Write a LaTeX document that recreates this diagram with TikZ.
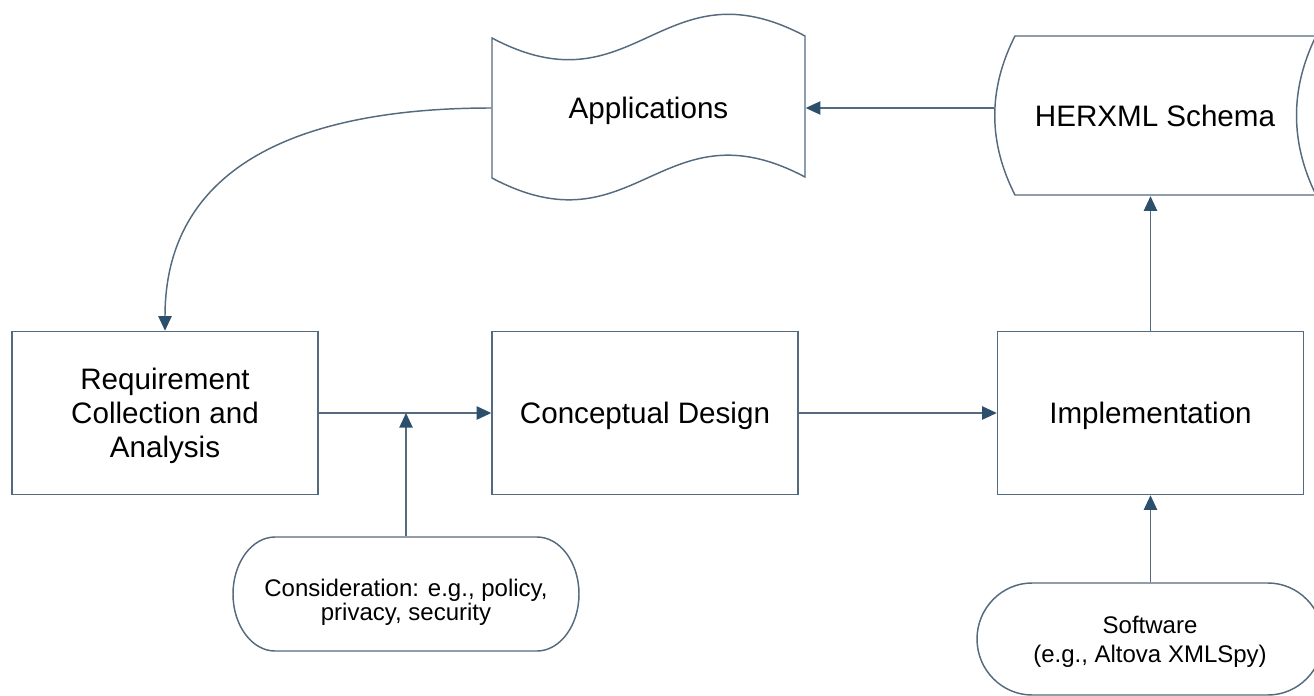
\documentclass[tikz,border=0pt]{standalone}
\usepackage{fontspec}
\setmainfont{Liberation Sans}
\usepackage{tikz}
\usetikzlibrary{arrows.meta,calc}
\definecolor{edgeblue}{RGB}{84,106,126}
\definecolor{tipblue}{RGB}{44,80,108}
\tikzset{every picture/.style={line width=1.1pt}}
\tikzset{
  outline/.style={draw=edgeblue},
  box/.style={outline,minimum width=229.5pt,minimum height=122.25pt,align=center,text depth=0pt,font=\fontsize{22.2}{25.5}\selectfont},
  bigtext/.style={align=center,text depth=0pt,font=\fontsize{22.2}{25.5}\selectfont},
  smalltext/.style={align=center,text depth=0pt,font=\fontsize{18}{18}\selectfont},
  arr/.style={edgeblue,-{Triangle[length=11pt,width=10pt,color=tipblue]}}
}

\begin{document}
\begin{tikzpicture}[x=0.75pt,y=0.75pt,yscale=-1,xscale=1]
		\useasboundingbox (0,0) rectangle (1314,696);
		
		%Shape: Tape [id:apps]
		\draw [outline] (492,38) .. controls (635,114) and (662,-40) .. (805,36) -- (805,177) .. controls (662,101) and (635,254) .. (492,178) -- cycle ;
		% Text Node
		\node (apps) [bigtext,minimum width=234.75pt,minimum height=105pt] at (648.5,108) {Applications};
		
		%Shape: Stored Data [id:schema]
		\draw [outline] (1330,36) -- (1015,36) .. controls (988,89) and (988,142) .. (1015,195) -- (1330,195) ;
		\draw [outline] (1316,36) .. controls (1290,89) and (1290,142) .. (1316,195) ;
		% Text Node
		\node (schema) [bigtext,minimum width=240pt,minimum height=119.25pt] at (1155,116) {HERXML Schema};
		
		%Shape: Rectangle [id:req]
		\node (req) [box] at (165,413) {Requirement\\Collection and\\Analysis};
		%Shape: Rectangle [id:concept]
		\node (concept) [box] at (645,413) {Conceptual Design};
		%Shape: Rectangle [id:impl]
		\node (impl) [box] at (1150.5,413) {Implementation};
		
		%Shape: Terminator [id:consid]
		\draw [outline] (275,537) -- (537,537) .. controls (560,537) and (579,562.5) .. (579,594) .. controls (579,625.5) and (560,651) .. (537,651) -- (275,651) .. controls (252,651) and (233,625.5) .. (233,594) .. controls (233,562.5) and (252,537) .. (275,537) -- cycle ;
		% Text Node
		\node (consid) [smalltext,minimum height=94.5pt] at (406,600) {Consideration: e.g., policy,\\privacy, security};
		
		%Shape: Terminator [id:soft]
		\draw [outline] (1032,583) -- (1268,583) .. controls (1298,583) and (1323,608) .. (1323,639) .. controls (1323,670) and (1298,695) .. (1268,695) -- (1032,695) .. controls (1002,695) and (977,670) .. (977,639) .. controls (977,608) and (1002,583) .. (1032,583) -- cycle ;
		% Text Node
		\node (soft) [smalltext,minimum height=84pt] at (1150,639) {Software\\[4pt](e.g., Altova XMLSpy)};
		
		%Curve Lines
		\draw [arr] (apps.west) .. controls +(-200,0) and +(0,-160) .. (req.north) ;
		%Straight Lines
		\draw [arr] (apps.east -| schema.west) -- (apps.east) ;
		\draw [arr] (req.east) -- (concept.west) ;
		\draw [arr] (consid.north) -- (consid.north |- req.east) ;
		\draw [arr] (concept.east) -- (impl.west) ;
		\draw [arr] (impl.north) -- (impl.north |- schema.south) ;
		\draw [arr] (soft.north -| impl.south) -- (impl.south) ;
		
		\end{tikzpicture}
\end{document}
